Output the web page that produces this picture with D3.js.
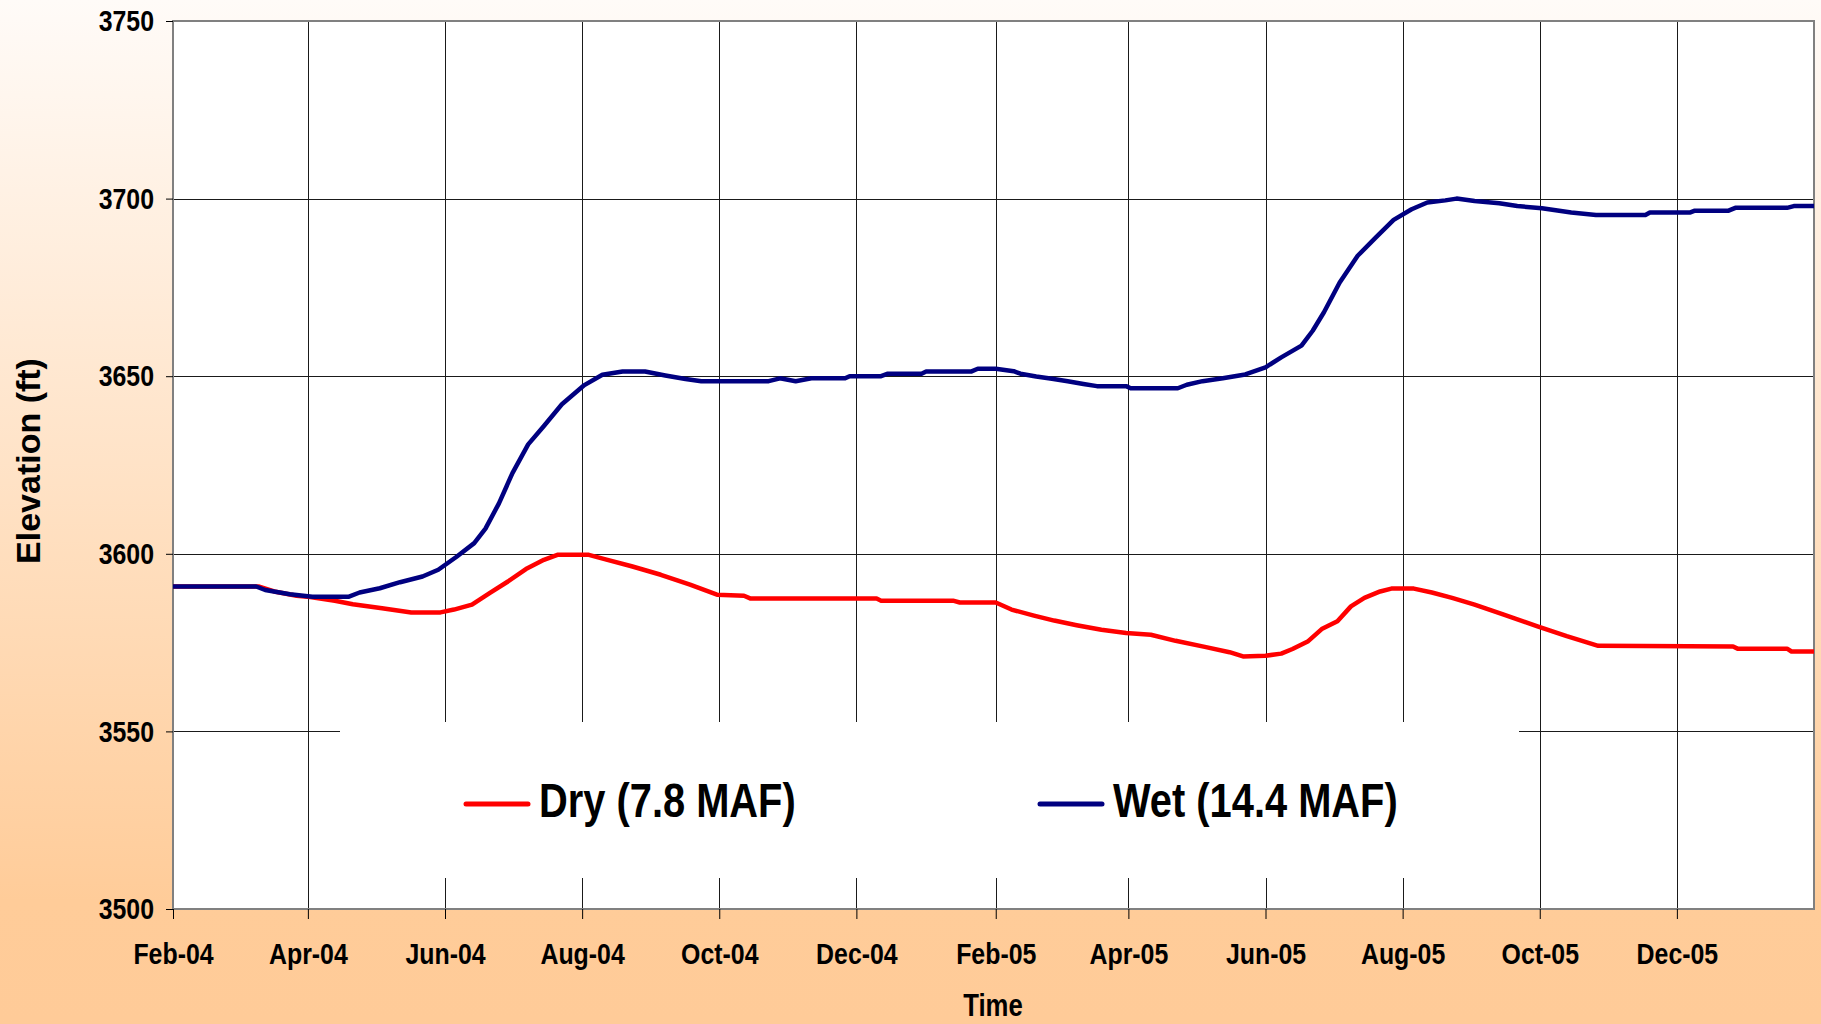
<!DOCTYPE html>
<html lang="en">
<head>
  <meta charset="UTF-8">
  <title>Elevation - Dry vs Wet</title>
  <script src="https://d3js.org/d3.v7.min.js"></script>
  <style>
    body {
      margin: 0;
      font-family: "Liberation Sans", Arial, sans-serif;
    }
    svg text {
      font-weight: bold;
      fill: #000;
    }
  </style>
</head>
<body>
  <div id="chart"></div>

  <script>
    // values
    const dryDates = ["2004-02-01", "2004-03-10", "2004-03-17", "2004-03-27", "2004-04-02", "2004-04-13",
      "2004-04-21", "2004-05-04", "2004-05-17", "2004-05-30", "2004-06-05", "2004-06-13", "2004-06-21",
      "2004-06-29", "2004-07-07", "2004-07-15", "2004-07-21", "2004-08-04", "2004-08-11", "2004-08-23",
      "2004-09-05", "2004-09-18", "2004-09-30", "2004-10-12", "2004-10-15", "2004-12-10", "2004-12-12",
      "2005-01-13", "2005-01-16", "2005-02-01", "2005-02-08", "2005-02-18", "2005-02-27", "2005-03-09",
      "2005-03-20", "2005-03-31", "2005-04-11", "2005-04-22", "2005-05-05", "2005-05-16", "2005-05-22",
      "2005-06-01", "2005-06-08", "2005-06-13", "2005-06-20", "2005-06-26", "2005-07-03", "2005-07-09",
      "2005-07-15", "2005-07-22", "2005-07-27", "2005-08-06", "2005-08-14", "2005-08-23", "2005-09-02",
      "2005-09-15", "2005-09-30", "2005-10-13", "2005-10-27", "2005-12-26", "2005-12-28", "2006-01-19",
      "2006-01-21", "2006-01-31"];
    const dryLevels = [3590.8, 3590.8, 3589.4, 3588.2, 3587.8, 3586.8,
      3585.8, 3584.7, 3583.5, 3583.5, 3584.3, 3585.7, 3589.0,
      3592.2, 3595.7, 3598.3, 3599.7, 3599.7, 3598.5, 3596.5,
      3594.1, 3591.3, 3588.5, 3588.2, 3587.4, 3587.4, 3586.8,
      3586.8, 3586.3, 3586.3, 3584.3, 3582.6, 3581.2, 3579.9,
      3578.6, 3577.7, 3577.2, 3575.5, 3573.8, 3572.3, 3571.1,
      3571.3, 3571.9, 3573.2, 3575.4, 3578.8, 3581.0, 3585.2,
      3587.6, 3589.4, 3590.2, 3590.2, 3589.1, 3587.6, 3585.7,
      3582.9, 3579.6, 3576.8, 3574.1, 3573.9, 3573.3, 3573.3,
      3572.5, 3572.5];

    const wetDates = ["2004-02-01", "2004-03-09", "2004-03-13", "2004-03-24", "2004-04-03", "2004-04-19",
      "2004-04-24", "2004-05-03", "2004-05-12", "2004-05-22", "2004-05-29", "2004-06-06", "2004-06-14",
      "2004-06-19", "2004-06-25", "2004-07-01", "2004-07-08", "2004-07-15", "2004-07-23", "2004-08-02",
      "2004-08-10", "2004-08-19", "2004-08-29", "2004-09-07", "2004-09-16", "2004-09-23", "2004-10-23",
      "2004-10-28", "2004-11-04", "2004-11-11", "2004-11-26", "2004-11-28", "2004-12-12", "2004-12-15",
      "2004-12-30", "2005-01-01", "2005-01-21", "2005-01-24", "2005-02-01", "2005-02-09", "2005-02-12",
      "2005-02-19", "2005-02-26", "2005-03-05", "2005-03-12", "2005-03-18", "2005-03-31", "2005-04-02",
      "2005-04-23", "2005-04-27", "2005-05-04", "2005-05-13", "2005-05-23", "2005-06-01", "2005-06-08",
      "2005-06-17", "2005-06-22", "2005-06-27", "2005-07-04", "2005-07-12", "2005-07-20", "2005-07-28",
      "2005-08-05", "2005-08-12", "2005-08-20", "2005-08-25", "2005-09-02", "2005-09-13", "2005-09-21",
      "2005-10-02", "2005-10-15", "2005-10-26", "2005-11-17", "2005-11-19", "2005-12-07", "2005-12-09",
      "2005-12-24", "2005-12-27", "2006-01-19", "2006-01-22", "2006-01-31"];
    const wetLevels = [3590.8, 3590.8, 3589.8, 3588.6, 3587.9, 3587.9,
      3589.1, 3590.3, 3592.0, 3593.6, 3595.5, 3599.1, 3603.0,
      3607.1, 3614.2, 3622.7, 3630.8, 3636.0, 3642.1, 3647.5,
      3650.4, 3651.3, 3651.3, 3650.2, 3649.2, 3648.6, 3648.6,
      3649.4, 3648.6, 3649.4, 3649.4, 3650.0, 3650.0, 3650.7,
      3650.7, 3651.3, 3651.3, 3652.1, 3652.1, 3651.4, 3650.7,
      3649.9, 3649.3, 3648.6, 3647.8, 3647.2, 3647.2, 3646.6,
      3646.6, 3647.6, 3648.6, 3649.4, 3650.5, 3652.5, 3655.3,
      3658.6, 3662.8, 3668.0, 3676.4, 3683.9, 3689.0, 3694.0,
      3697.0, 3698.9, 3699.5, 3700.0, 3699.3, 3698.7, 3697.9,
      3697.3, 3696.1, 3695.4, 3695.4, 3696.1, 3696.1, 3696.6,
      3696.6, 3697.4, 3697.4, 3697.9, 3697.9];

    const tickDates = ["2004-02-01", "2004-04-01", "2004-06-01", "2004-08-01", "2004-10-01", "2004-12-01",
      "2005-02-01", "2005-04-01", "2005-06-01", "2005-08-01", "2005-10-01", "2005-12-01"];
    const yTicks = [3500, 3550, 3600, 3650, 3700, 3750];
    const seriesNames = ["Dry (7.8 MAF)", "Wet (14.4 MAF)"];
    const seriesColors = ["#ff0000", "#000080"];

    const w = 1821;
    const h = 1024;
    const plotLeft = 173, plotRight = 1814, plotTop = 21, plotBottom = 909;
    const squeeze = 0.83; // text in the picture is horizontally condensed

    const parse = d3.utcParse("%Y-%m-%d");
    const dry = dryDates.map((d, i) => ({ date: parse(d), value: dryLevels[i] }));
    const wet = wetDates.map((d, i) => ({ date: parse(d), value: wetLevels[i] }));

    const svg = d3.select("#chart")
                  .append("svg")
                  .attr("width", w)
                  .attr("height", h);

    const grad = svg.append("defs")
                    .append("linearGradient")
                    .attr("id", "bg")
                    .attr("x1", 0).attr("y1", 0)
                    .attr("x2", 0).attr("y2", 1);
    grad.append("stop").attr("offset", "0%").attr("stop-color", "#fffbf8");
    grad.append("stop").attr("offset", "88%").attr("stop-color", "#ffcc99");
    grad.append("stop").attr("offset", "100%").attr("stop-color", "#ffcb98");

    svg.append("rect")
       .attr("width", w)
       .attr("height", h)
       .attr("fill", "url(#bg)");

    const xScale = d3.scaleUtc()
                     .domain([parse("2004-02-01"), parse("2006-01-31")])
                     .range([plotLeft, plotRight]);

    const yScale = d3.scaleLinear()
                     .domain([3500, 3750])
                     .range([plotBottom, plotTop]);

    svg.append("rect")
       .attr("x", plotLeft)
       .attr("y", plotTop)
       .attr("width", plotRight - plotLeft)
       .attr("height", plotBottom - plotTop)
       .attr("fill", "#fff");

    // gridlines
    const gridX = svg.append("g")
       .attr("transform", `translate(0, ${plotBottom})`)
       .call(d3.axisBottom(xScale).tickValues(tickDates.map(parse)).tickSize(-(plotBottom - plotTop)).tickFormat(""));
    const gridY = svg.append("g")
       .attr("transform", `translate(${plotLeft}, 0)`)
       .call(d3.axisLeft(yScale).tickValues(yTicks).tickSize(-(plotRight - plotLeft)).tickFormat(""));
    [gridX, gridY].forEach(g => {
      g.select(".domain").remove();
      g.selectAll("line").attr("stroke", "#1a1a1a").attr("shape-rendering", "crispEdges");
    });

    // legend background hides the grid under it
    svg.append("rect")
       .attr("x", 340)
       .attr("y", 722)
       .attr("width", 1519 - 340)
       .attr("height", 878 - 722)
       .attr("fill", "#fff");

    svg.append("rect")
       .attr("x", plotLeft)
       .attr("y", plotTop)
       .attr("width", plotRight - plotLeft)
       .attr("height", plotBottom - plotTop)
       .attr("fill", "none")
       .attr("stroke", "#808080")
       .attr("stroke-width", 2);

    const line = d3.line()
                   .x(d => xScale(d.date))
                   .y(d => yScale(d.value));

    [dry, wet].forEach((series, i) => {
      svg.append("path")
         .datum(series)
         .attr("fill", "none")
         .attr("stroke", seriesColors[i])
         .attr("stroke-width", 4.5)
         .attr("stroke-linejoin", "round")
         .attr("d", line);
    });

    // axes
    const xAxis = svg.append("g")
       .attr("transform", `translate(0, ${plotBottom})`)
       .call(d3.axisBottom(xScale)
               .tickValues(tickDates.map(parse))
               .tickSizeInner(10).tickSizeOuter(0)
               .tickPadding(24)
               .tickFormat(d3.utcFormat("%b-%y")));
    xAxis.select(".domain").remove();
    xAxis.selectAll("line").attr("stroke", "#000");
    xAxis.selectAll("text")
         .attr("font-size", 30)
         .attr("font-family", "'Liberation Sans', Arial, sans-serif")
         .attr("transform", `scale(${squeeze},1)`);

    const yAxis = svg.append("g")
       .attr("transform", `translate(${plotLeft}, 0)`)
       .call(d3.axisLeft(yScale)
               .tickValues(yTicks)
               .tickFormat(d3.format("d"))
               .tickSizeInner(7).tickSizeOuter(0)
               .tickPadding(12));
    yAxis.select(".domain").remove();
    yAxis.selectAll("line").attr("stroke", "#000");
    yAxis.selectAll("text")
         .attr("font-size", 30)
         .attr("font-family", "'Liberation Sans', Arial, sans-serif")
         .attr("transform", function() {
           return `translate(${this.getAttribute("x")},0) scale(${squeeze},1)`;
         })
         .attr("x", 0);

    // axis titles
    svg.append("text")
       .attr("transform", "translate(40, 461) rotate(-90)")
       .attr("text-anchor", "middle")
       .attr("font-size", 34)
       .text("Elevation (ft)");

    svg.append("text")
       .attr("transform", `translate(993, 1016) scale(${squeeze},1)`)
       .attr("text-anchor", "middle")
       .attr("font-size", 31)
       .text("Time");

    // legend
    const legendX = [466, 1040];
    seriesNames.forEach((name, i) => {
      const g = svg.append("g").attr("transform", `translate(${legendX[i]}, 804)`);
      g.append("line")
       .attr("x1", 0).attr("x2", 62)
       .attr("y1", 0).attr("y2", 0)
       .attr("stroke", seriesColors[i])
       .attr("stroke-width", 5)
       .attr("stroke-linecap", "round");
      g.append("text")
       .attr("transform", `translate(73, 13) scale(${squeeze},1)`)
       .attr("font-size", 48)
       .text(name);
    });
  </script>
</body>
</html>
